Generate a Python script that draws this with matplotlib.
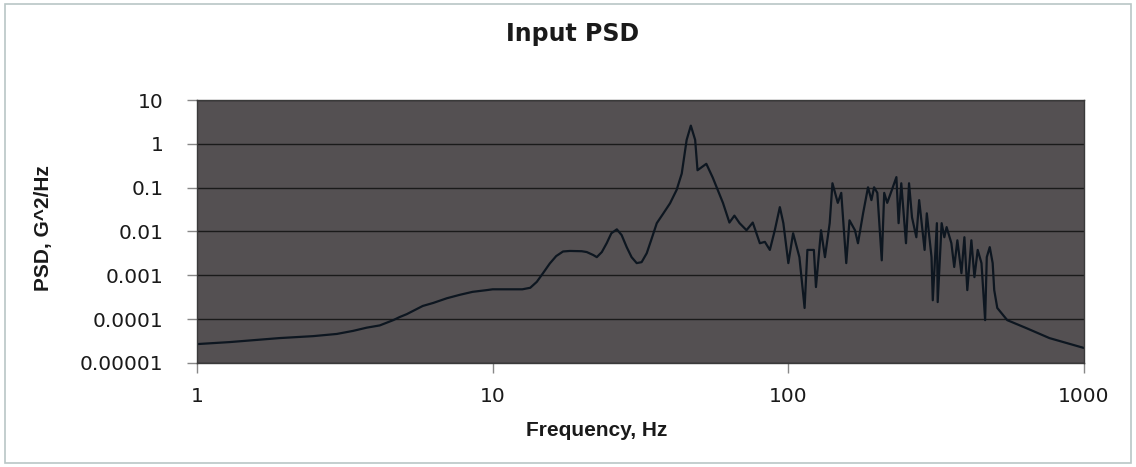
import matplotlib
matplotlib.use("Agg")
import matplotlib.pyplot as plt
from matplotlib.patches import Rectangle
from matplotlib.ticker import FixedLocator, NullLocator

plt.rcParams['font.family'] = ['Liberation Sans', 'DejaVu Sans']

title = "Input PSD"
xlabel = "Frequency, Hz"
ylabel = "PSD, G^2/Hz"

freq = [1.0, 1.29, 1.9, 2.47, 2.97, 3.37, 3.75, 4.15, 4.61, 4.85, 5.12, 5.8, 6.3, 7.0,
        7.75, 8.55, 9.55, 10, 12.6, 13.4, 14.1, 14.8, 15.6, 16.4, 17.3, 18.25, 20.0,
        20.8, 21.9, 22.5, 23.4, 24.3, 25.2, 26.3, 27.3, 28.4, 29.5, 30.7, 31.9, 33.2,
        34.5, 35.9, 37.8, 39.8, 41.9, 43.6,
        45.3, 46.8, 48.4, 49.3, 52.8, 55.5, 60.1, 63.2, 65.7, 68.4, 72.2, 75.8, 80.1,
        83.3, 86.6, 90.0, 93.6, 96.2, 100, 103.8, 109, 113.5, 116, 122, 124, 129, 133,
        138, 141, 147, 151, 157, 161, 168, 172, 179, 186, 191, 195, 200, 207, 211, 216,
        224, 232, 236, 241, 250, 256, 262, 271, 277, 289, 294, 305, 308, 318, 320, 330,
        337, 343, 356, 364, 373, 385, 394, 403, 416, 426, 437, 450, 463, 469, 480, 491,
        497, 509, 550, 640, 764, 1000]

psd = [2.7e-5, 3.0e-5, 3.7e-5, 4.1e-5, 4.6e-5, 5.4e-5, 6.4e-5, 7.2e-5, 9.5e-5, 1.12e-4,
       1.3e-4, 2.0e-4, 2.35e-4, 3.0e-4, 3.6e-4, 4.2e-4, 4.6e-4, 4.8e-4, 4.8e-4, 5.2e-4,
       7.1e-4, 1.12e-3, 1.86e-3, 2.75e-3, 3.5e-3, 3.6e-3, 3.55e-3, 3.4e-3, 2.9e-3, 2.6e-3,
       3.4e-3, 5.4e-3, 9.1e-3, 1.12e-2, 8.3e-3, 4.4e-3, 2.6e-3, 1.9e-3, 2.0e-3, 3.2e-3,
       6.9e-3, 1.55e-2, 2.6e-2, 4.4e-2, 8.9e-2, 0.21,
       1.23, 2.6, 1.23, 0.25, 0.35, 0.17, 0.045, 0.016, 0.023, 0.0155, 0.0107, 0.016, 0.0054,
       0.0058, 0.0038, 0.0107, 0.036, 0.0155, 0.0019, 0.0091, 0.0026, 1.8e-4, 0.0038,
       0.0038, 5.4e-4, 0.0107, 0.0026, 0.0155, 0.126, 0.045, 0.076, 0.0019, 0.018,
       0.0107, 0.0054, 0.026, 0.102, 0.052, 0.102, 0.076, 0.0022, 0.076, 0.045,
       0.089, 0.174, 0.0155, 0.126, 0.0054, 0.126, 0.021, 0.0074, 0.052, 0.0038,
       0.026, 0.0026, 2.7e-4, 0.0155, 2.45e-4, 0.0155, 0.0074, 0.0126, 0.0054, 0.00155,
       0.0063, 0.00112, 0.0074, 4.6e-4, 0.0063, 9.1e-4, 0.0038, 0.0019, 9.5e-5, 0.0026,
       0.0044, 0.0019, 4.6e-4, 1.8e-4, 9.5e-5, 6.2e-5, 3.7e-5, 2.2e-5]

xticks = [1, 10, 100, 1000]
xticklabels = ["1", "10", "100", "1000"]
yticks = [1e-5, 1e-4, 1e-3, 1e-2, 1e-1, 1, 10]
yticklabels = ["0.00001", "0.0001", "0.001", "0.01", "0.1", "1", "10"]

W, H = 1136, 467
fig = plt.figure(figsize=(W / 100, H / 100), dpi=100)
fig.patch.set_facecolor('white')

# outer chart border
fig.add_artist(Rectangle((5 / W, 4 / H), 1126 / W, 459 / H, transform=fig.transFigure,
                         fill=False, edgecolor='#b9c6c6', linewidth=1.2))

ax = fig.add_axes([197 / W, 1 - 363 / H, (1084 - 197) / W, (363 - 100) / H])
ax.set_facecolor('#545052')
ax.set_xscale('log')
ax.set_yscale('log')
ax.set_xlim(1, 1000)
ax.set_ylim(1e-5, 10)

ax.plot(freq, psd, color='#0d1620', linewidth=1.6, solid_joinstyle='round')

ax.xaxis.set_major_locator(FixedLocator(xticks))
ax.xaxis.set_minor_locator(NullLocator())
ax.set_xticklabels(xticklabels)
ax.yaxis.set_major_locator(FixedLocator(yticks))
ax.yaxis.set_minor_locator(NullLocator())
ax.set_yticklabels(yticklabels)

ax.grid(True, axis='y', color='#1a1a1a', linewidth=1.0)
ax.tick_params(axis='both', direction='out', length=7, width=1, color='#888888',
               labelsize=15, labelcolor='#1a1a1a')
ax.tick_params(axis='x', pad=10)
ax.tick_params(axis='y', pad=17)
for lab in ax.get_xticklabels() + ax.get_yticklabels():
    lab.set_family(['DejaVu Sans'])
    lab.set_fontsize(14.5)
for s in ax.spines.values():
    s.set_color('#3a3a3a')
    s.set_linewidth(1)

fig.text(573 / W, 1 - 34 / H, title, ha='center', va='center', fontsize=17,
         fontweight='bold', color='#1a1a1a', family=['DejaVu Sans'])
fig.text(597 / W, 1 - 430 / H, xlabel, ha='center', va='center', fontsize=15,
         fontweight='bold', color='#1a1a1a')
fig.text(44 / W, 1 - 228 / H, ylabel, ha='center', va='center', rotation=90,
         fontsize=15, fontweight='bold', color='#1a1a1a')

fig.savefig('out.png', dpi=100, facecolor='white')
